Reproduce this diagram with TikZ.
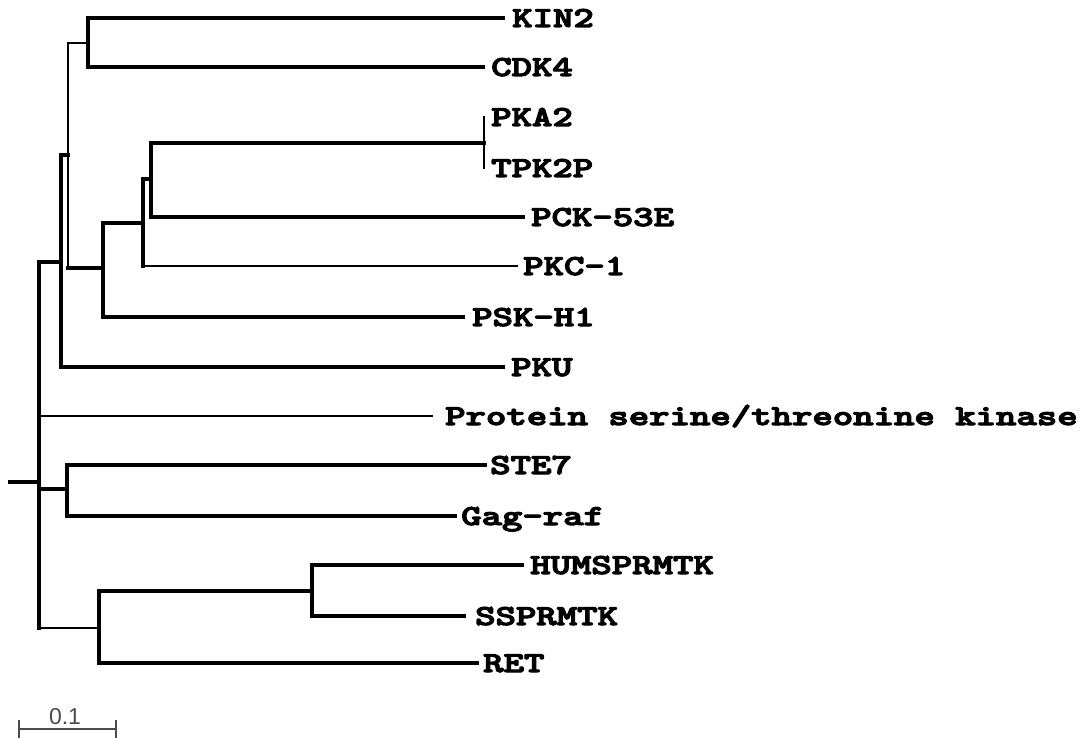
\documentclass[tikz,border=0pt]{standalone}
\usepackage{fontspec}
\usepackage{graphicx}
\newfontfamily\barfont{Liberation Sans}
\newfontfamily\labfont[FakeBold=3.5]{lmmonolt10-bold.otf}
\newcommand{\lbltxt}[1]{\scalebox{1.34}[1]{\labfont\fontsize{29}{29}\selectfont #1}}
\begin{document}
\begin{tikzpicture}[x=1pt,y=-1pt,
  br/.style={line width=3.2pt,line cap=rect,line join=miter},
  mid/.style={line width=2.2pt,line cap=rect},
  thin/.style={line width=1.3pt},
  lab/.style={anchor=base west,inner sep=0pt},
  barline/.style={line width=1.1pt,black!70}]
\useasboundingbox (0,0) rectangle (1090,738);
% internal nodes
\coordinate (root) at (10,482);
\coordinate (A) at (39,482);
\coordinate (B) at (61,262);
\coordinate (C) at (68,155);
\coordinate (D) at (88,43);
\coordinate (E) at (103,268);
\coordinate (F) at (143,223);
\coordinate (G) at (151,179);
\coordinate (H) at (484,143);
\coordinate (I) at (67,489);
\coordinate (J) at (99,628);
\coordinate (K) at (312,591);
% leaf ends
\coordinate (KIN2) at (503,18);
\coordinate (CDK4) at (483,67);
\coordinate (PKA2) at (484,117);
\coordinate (TPK2P) at (484,168);
\coordinate (PCK) at (523,217);
\coordinate (PKC) at (518,266);
\coordinate (PSK) at (463,317);
\coordinate (PKU) at (503,367);
\coordinate (PROT) at (433,416);
\coordinate (STE7) at (485,465);
\coordinate (GAG) at (455,516);
\coordinate (HUMS) at (522,565);
\coordinate (SSP) at (464,616);
\coordinate (RET) at (477,663);
% labels
\node[lab] (tKIN2) at (512,27) {\lbltxt{KIN2}};
\node[lab] (tCDK4) at (491,76) {\lbltxt{CDK4}};
\node[lab] (tPKA2) at (491,126) {\lbltxt{PKA2}};
\node[lab] (tTPK2P) at (491,177) {\lbltxt{TPK2P}};
\node[lab] (tPCK) at (531,226) {\lbltxt{PCK-53E}};
\node[lab] (tPKC) at (523,275) {\lbltxt{PKC-1}};
\node[lab] (tPSK) at (472,326) {\lbltxt{PSK-H1}};
\node[lab] (tPKU) at (511,376) {\lbltxt{PKU}};
\node[lab] (tPROT) at (445,425) {\lbltxt{Protein serine/threonine kinase}};
\node[lab] (tSTE7) at (490,474) {\lbltxt{STE7}};
\node[lab] (tGAG) at (461,525) {\lbltxt{Gag-raf}};
\node[lab] (tHUMS) at (530,574) {\lbltxt{HUMSPRMTK}};
\node[lab] (tSSP) at (475,625) {\lbltxt{SSPRMTK}};
\node[lab] (tRET) at (483,672) {\lbltxt{RET}};
% tree
\draw[br] (root) -- (A);
\draw[br] (A |- B) -- (A |- J);
\draw[br] (A |- B) -- (B);
\draw[br] (B |- C) -- (B |- PKU) -- (PKU);
\draw[br] (B |- C) -- (C);
\draw[mid] (C |- D) -- (C |- E);
\draw[line width=2.6pt,line cap=rect] (C |- D) -- (D);
\draw[br] (KIN2) -| (D |- KIN2) |- (CDK4);
\draw[br] (C |- E) -- (E);
\draw[br] (E |- F) -- (E |- PSK) -- (PSK);
\draw[br] (E |- F) -- (F);
\draw[br] (F |- G) -- (F |- PKC);
\draw[thin] (F |- PKC) -- (PKC);
\draw[br] (F |- G) -- (G);
\draw[br] (G |- H) -- (G |- PCK) -- (PCK);
\draw[br] (G |- H) -- (H);
\draw[mid] (PKA2) -- (TPK2P);
\draw[thin] (A |- PROT) -- (PROT);
\draw[br] (A |- I) -- (I);
\draw[br] (STE7) -| (I |- STE7) |- (GAG);
\draw[thin] (A |- J) -- (J);
\draw[br] (J |- K) -- (J |- RET) -- (RET);
\draw[br] (J |- K) -- (K);
\draw[br] (HUMS) -| (K |- HUMS) |- (SSP);
% scale bar
\coordinate (s1) at (19,729);
\coordinate (s2) at (116,729);
\draw[barline] (s1) -- (s2);
\draw[barline] ([yshift=-10pt]s1) -- ([yshift=9pt]s1);
\draw[barline] ([yshift=-10pt]s2) -- ([yshift=9pt]s2);
\node[anchor=base,inner sep=0pt,font=\barfont\fontsize{23}{23}\selectfont,text=black!70] (sl) at (65,724) {0.1};
\end{tikzpicture}
\end{document}
